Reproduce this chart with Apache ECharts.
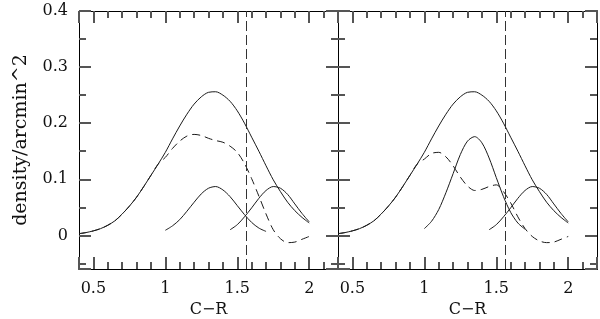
<!DOCTYPE html>
<html>
<head>
<meta charset="utf-8">
<script src="https://cdn.jsdelivr.net/npm/echarts@6/dist/echarts.min.js"></script>
<style>
html,body{margin:0;padding:0;background:#fff;}
#c{width:600px;height:319px;}
</style>
</head>
<body>
<div id="c"></div>
<script>
// ---- data ----
var xGrid = [0.4,0.45,0.5,0.55,0.6,0.65,0.7,0.75,0.8,0.85,0.9,0.95,1.0,1.05,1.1,1.15,1.2,1.25,1.3,1.35,1.4,1.45,1.5,1.55,1.6,1.65,1.7,1.75,1.8,1.85,1.9,1.95,2.0];
var total = [0.003,0.005,0.008,0.012,0.018,0.026,0.038,0.052,0.068,0.087,0.107,0.127,0.148,0.172,0.195,0.216,0.234,0.247,0.255,0.256,0.250,0.239,0.222,0.200,0.175,0.150,0.124,0.099,0.078,0.059,0.044,0.032,0.022];
var dashLeft = [0.003,0.005,0.008,0.012,0.018,0.026,0.038,0.052,0.068,0.087,0.107,0.127,0.139,0.155,0.168,0.177,0.180,0.178,0.173,0.169,0.166,0.159,0.148,0.128,0.101,0.070,0.038,0.010,-0.006,-0.013,-0.012,-0.007,-0.002];
var dashRight = [0.003,0.005,0.008,0.012,0.018,0.026,0.038,0.052,0.068,0.087,0.107,0.127,0.136,0.146,0.148,0.140,0.124,0.104,0.088,0.080,0.082,0.087,0.090,0.078,0.058,0.033,0.012,-0.002,-0.010,-0.013,-0.012,-0.007,-0.002];
var xG1 = [1.0,1.05,1.1,1.15,1.2,1.25,1.3,1.35,1.4,1.45,1.5,1.55,1.6,1.65,1.7];
var g1Left = [0.009,0.017,0.028,0.043,0.059,0.074,0.084,0.087,0.081,0.069,0.053,0.037,0.023,0.013,0.007];
var g1Right = [0.012,0.025,0.046,0.076,0.110,0.144,0.168,0.176,0.165,0.138,0.103,0.069,0.041,0.022,0.011];
var xG2 = [1.45,1.5,1.55,1.6,1.65,1.7,1.75,1.8,1.85,1.9,1.95,2.0];
var g2 = [0.010,0.019,0.033,0.049,0.066,0.080,0.087,0.084,0.073,0.056,0.039,0.024];
var cutColor = 1.56;
var xRange = [0.4, 2.2];
var yRange = [-0.06, 0.4];
var xMajorStep = 0.5, xMinorStep = 0.1;
var yMajorStep = 0.1, yMinorStep = 0.05;
var xLabels = ['0.5','1','1.5','2'];
var xLabelValues = [0.5,1,1.5,2];
var yLabels = ['0','0.1','0.2','0.3','0.4'];
var yLabelValues = [0,0.1,0.2,0.3,0.4];
var xTitle = 'C\u2212R';
var yTitle = 'density/arcmin^2';

function pairs(xs, ys){ return xs.map(function(x,i){ return [x, ys[i]]; }); }
function lookup(vals, labels, v){
  for (var i=0;i<vals.length;i++){ if (Math.abs(vals[i]-v) < 1e-6) return labels[i]; }
  return '';
}

var FONT = 'DejaVu Serif';
var INK = '#111';
var TICK = '#555';

function makeAxis(g, range, pos, len, step, extra){
  var ax = {
    gridIndex:g, type:'value', min:range[0], max:range[1],
    minInterval:step, maxInterval:step,
    position:pos,
    splitLine:{show:false},
    axisLine:{show:true, onZero:false, lineStyle:{color:'#000', width:1}},
    axisTick:{show:true, inside:true, length:len, lineStyle:{color:TICK, width:2}},
    axisLabel:{show:false}
  };
  if (extra) { for (var k in extra) ax[k] = extra[k]; }
  return ax;
}

function xAxesFor(g){
  return [
    makeAxis(g, xRange, 'bottom', 12, xMajorStep, {
      axisLabel:{show:true, margin:12, color:INK, fontFamily:FONT, fontSize:16,
        formatter:function(v){ return lookup(xLabelValues, xLabels, v); }},
      name:xTitle, nameLocation:'middle', nameGap:33,
      nameTextStyle:{color:INK, fontFamily:FONT, fontSize:16}
    }),
    makeAxis(g, xRange, 'bottom', 7, xMinorStep),
    makeAxis(g, xRange, 'top', 12, xMajorStep),
    makeAxis(g, xRange, 'top', 7, xMinorStep)
  ];
}
function yAxesFor(g, withLabels){
  var first = withLabels ? {
      axisLabel:{show:true, margin:11, color:INK, fontFamily:FONT, fontSize:16,
        formatter:function(v){ return lookup(yLabelValues, yLabels, v); }},
      name:yTitle, nameLocation:'middle', nameGap:48, nameRotate:90,
      nameTextStyle:{color:INK, fontFamily:FONT, fontSize:19}
    } : null;
  return [
    makeAxis(g, yRange, 'left', 12, yMajorStep, first),
    makeAxis(g, yRange, 'left', 7, yMinorStep),
    makeAxis(g, yRange, 'right', 12, yMajorStep),
    makeAxis(g, yRange, 'right', 7, yMinorStep)
  ];
}

function line(xi, yi, data, dashed, withMark){
  var s = {
    type:'line', xAxisIndex:xi, yAxisIndex:yi, data:data, showSymbol:false, symbol:'none',
    smooth:0.3,
    lineStyle:{color:'#1a1a1a', width:1, type: dashed ? [8,5] : 'solid'}
  };
  if (withMark) {
    s.markLine = {symbol:'none', silent:true, label:{show:false},
      lineStyle:{color:'#333', width:1, type:[10,4]},
      data:[{xAxis:cutColor}]};
  }
  return s;
}

var option = {
  animation:false,
  grid:[
    {left:79, top:11, width:259, height:258, outerBoundsMode:'none'},
    {left:338, top:11, width:259, height:258, outerBoundsMode:'none'}
  ],
  xAxis: xAxesFor(0).concat(xAxesFor(1)),
  yAxis: yAxesFor(0,true).concat(yAxesFor(1,false)),
  series:[
    line(0,0,pairs(xGrid,total),false,true),
    line(0,0,pairs(xGrid,dashLeft),true),
    line(0,0,pairs(xG1,g1Left),false),
    line(0,0,pairs(xG2,g2),false),
    line(4,4,pairs(xGrid,total),false,true),
    line(4,4,pairs(xGrid,dashRight),true),
    line(4,4,pairs(xG1,g1Right),false),
    line(4,4,pairs(xG2,g2),false)
  ]
};
var chart = echarts.init(document.getElementById('c'));
chart.setOption(option);
</script>
</body>
</html>
